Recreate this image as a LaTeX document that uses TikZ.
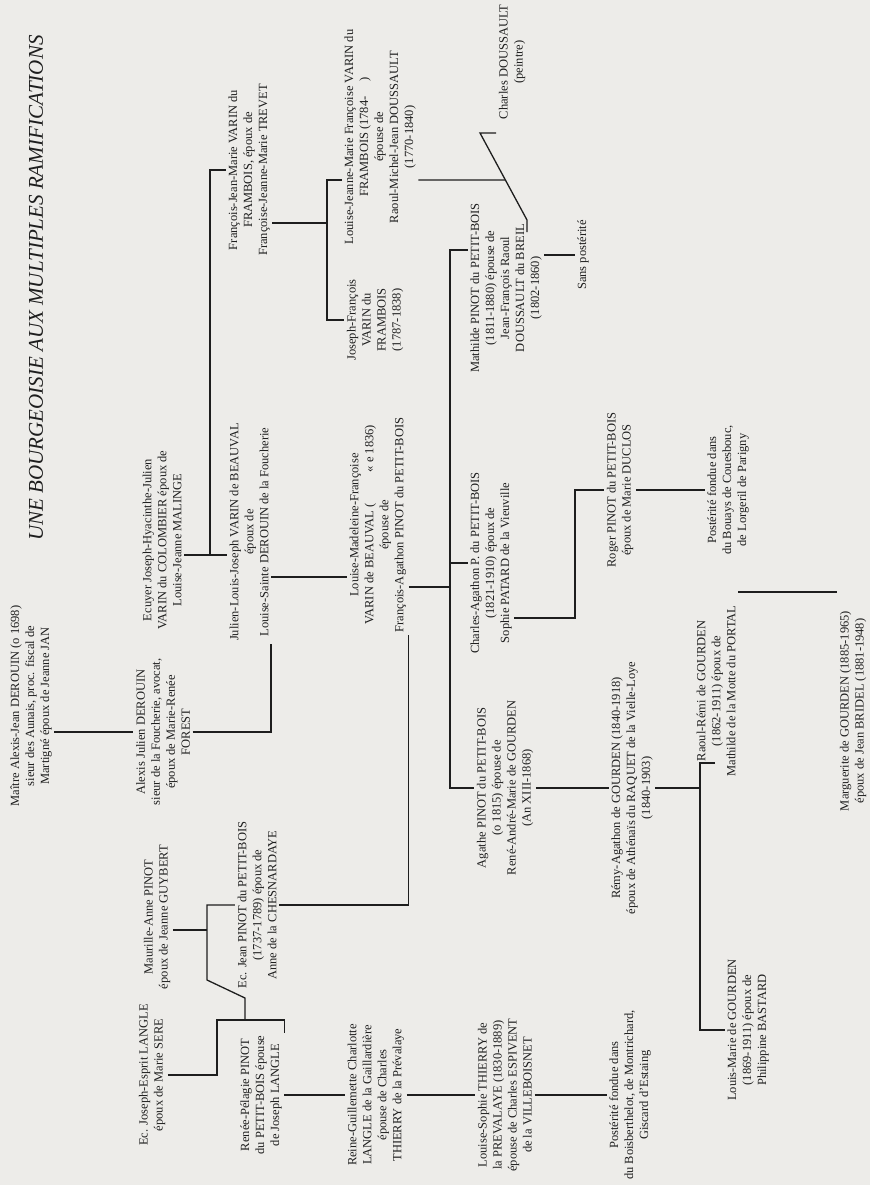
\documentclass[tikz,border=0pt]{standalone}
\usepackage{fontspec}
\setmainfont{Liberation Serif}
\usetikzlibrary{calc}
\definecolor{paper}{RGB}{237,236,233}
\definecolor{ink}{RGB}{30,30,30}
\tikzset{person/.style={rotate=90, align=center, inner sep=2pt,
    font=\fontsize{12.5}{15}\selectfont}}

\begin{document}
\begin{tikzpicture}[x=1pt, y=-1pt, line width=1.3pt, color=ink]
    \fill[paper] (0,0) rectangle (870,1185);
    \node[rotate=90, font=\fontsize{21}{23}\selectfont\itshape] (title) at (36,288)
        {UNE BOURGEOISIE AUX MULTIPLES RAMIFICATIONS};
    % generation 0 and 1
    \node[person] (maitre) at (31,706) {Maître Alexis-Jean DEROUIN (o 1698)\\sieur des Aunais, proc. fiscal de\\Martigné époux de Jeanne JAN};
    \node[person] (alexis) at (163,732) {Alexis Julien DEROUIN\\sieur de la Foucherie, avocat,\\époux de Marie-Renée\\FOREST};
    \node[person] (ecuyer) at (162,540) {Ecuyer Joseph-Hyacinthe-Julien\\VARIN du COLOMBIER époux de\\Louise-Jeanne MALINGE};
    \node[person] (maurille) at (157,917) {Maurille-Anne PINOT\\époux de Jeanne GUYBERT};
    \node[person] (esprit) at (152,1075) {Ec. Joseph-Esprit LANGLE\\époux de Marie SERE};
    % generation 2
    \node[person] (francoisjm) at (249,170) {François-Jean-Marie VARIN du\\FRAMBOIS, époux de\\Françoise-Jeanne-Marie TREVET};
    \node[person] (julien) at (249,532) {Julien-Louis-Joseph VARIN de BEAUVAL\\époux de\\Louise-Sainte DEROUIN de la Foucherie};
    \node[person] (jean) at (257,905) {Ec. Jean PINOT du PETIT-BOIS\\(1737-1789) époux de\\Anne de la CHESNARDAYE};
    \node[person] (renee) at (261,1095) {Renée-Pélagie PINOT\\du PETIT-BOIS épouse\\de Joseph LANGLE};
    % generation 3
    \node[person] (louisejeanne) at (380,137) {Louise-Jeanne-Marie Françoise VARIN du\\FRAMBOIS (1784-\hspace{1.2em})\\épouse de\\Raoul-Michel-Jean DOUSSAULT\\(1770-1840)};
    \node[person] (josephfr) at (375,320) {Joseph-François\\VARIN du\\FRAMBOIS\\(1787-1838)};
    \node[person] (madeleine) at (378,525) {Louise-Madeleine-Françoise\\VARIN de BEAUVAL (\hspace{2.5em}« e 1836)\\épouse de\\François-Agathon PINOT du PETIT-BOIS};
    \node[person] (reine) at (376,1095) {Reine-Guillemette Charlotte\\LANGLE de la Gaillardière\\épouse de Charles\\THIERRY de la Prévalaye};
    % generation 4
    \node[person] (charlesdss) at (512,62) {Charles DOUSSAULT\\(peintre)};
    \node[person] (mathilde) at (506,288) {Mathilde PINOT du PETIT-BOIS\\(1811-1880) épouse de\\Jean-François Raoul\\DOUSSAULT du BREIL\\(1802-1860)};
    \node[person] (charlesag) at (491,563) {Charles-Agathon P. du PETIT-BOIS\\(1821-1910) époux de\\Sophie PATARD de la Vieuville};
    \node[person] (agathe) at (505,788) {Agathe PINOT du PETIT-BOIS\\(o 1815) épouse de\\René-André-Marie de GOURDEN\\(An XIII-1868)};
    \node[person] (sophie) at (505,1095) {Louise-Sophie THIERRY de\\la PREVALAYE (1830-1889)\\épouse de Charles ESPIVENT\\de la VILLEBOISNET};
    % generation 5 and after
    \node[person] (sans) at (583,255) {Sans postérité};
    \node[person] (roger) at (620,490) {Roger PINOT du PETIT-BOIS\\époux de Marie DUCLOS};
    \node[person] (remy) at (632,788) {Rémy-Agathon de GOURDEN (1840-1918)\\époux de Athénaïs du RAQUET de la Vielle-Loye\\(1840-1903)};
    \node[person] (posterite1) at (630,1095) {Postérité fondue dans\\du Boisberthelot, de Montrichard,\\Giscard d'Estaing};
    \node[person] (posterite2) at (728,490) {Postérité fondue dans\\du Bouays de Couesbouc,\\de Lorgeril de Parigny};
    \node[person] (raoul) at (716,691) {Raoul-Rémi de GOURDEN\\(1862-1911) époux de\\Mathilde de la Motte du PORTAL};
    \node[person] (louismarie) at (748,1030) {Louis-Marie de GOURDEN\\(1869-1911) époux de\\Philippine BASTARD};
    \node[person] (marguerite) at (853,711) {Marguerite de GOURDEN (1885-1965)\\époux de Jean BRIDEL (1881-1948)};

    \coordinate (d1) at (480,133);
    \coordinate (d2) at (527,220);

    \draw (maitre.south |- alexis.north) -- (alexis.north);
    \draw (ecuyer.south |- 0,555) -- (julien.north |- 0,555);
    \draw (210,555) |- (francoisjm.north);
    \draw (maurille.south |- 0,930) -- (207,930);
    \draw (jean.north) -| (207,980) -- (245,998) -- (245,1020);
    \draw (esprit.south) -| (217,1020) -| (renee.south east);
    \draw (alexis.south) -| (julien.south west);
    \draw (jean.south) -| (madeleine.south west);
    \draw (julien.south |- 0,577) -- (madeleine.north |- 0,577);
    \draw (francoisjm.south |- 0,223) -- (327,223);
    \draw (louisejeanne.north |- 0,180) -| (327,320) -- (josephfr.north);
    \draw (renee.south) -- (reine.north);
    \draw (reine.south) -- (sophie.north);
    \draw (sophie.south) -- (posterite1.north);
    \draw (madeleine.south |- 0,587) -- (450,587);
    \draw (mathilde.north |- 0,250) -| (450,788) -- (agathe.north);
    \draw (450,563) -- (charlesag.north);
    \draw (charlesdss.north |- d1) -- (d1) -- (d2) -- ++(0,12);
    \draw (louisejeanne.south |- 0,180) -- ($(d1)!0.54!(d2)$);
    \draw (mathilde.south |- sans.north) -- (sans.north);
    \draw (charlesag.south |- 0,618) -| (575,490) -- (roger.north);
    \draw (roger.south) -- (posterite2.north);
    \draw (agathe.south) -- (remy.north);
    \draw (remy.south) -- (remy.south -| 700,0);
    \draw (715,763) -- (700,763) |- (louismarie.north);
    \draw (raoul.south |- 0,592) -- (marguerite.north east |- 0,592);
\end{tikzpicture}
\end{document}
